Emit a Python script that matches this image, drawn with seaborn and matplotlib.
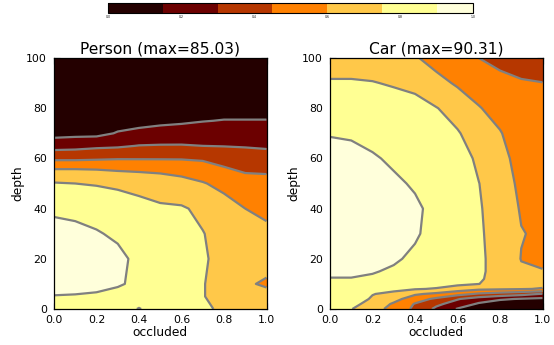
import numpy as np
import matplotlib
matplotlib.use("Agg")
import matplotlib.pyplot as plt
import seaborn as sns

sns.set_style("ticks", {"xtick.direction": "in", "ytick.direction": "in",
                        "axes.edgecolor": "black", "text.color": "black",
                        "axes.labelcolor": "black", "xtick.color": "black",
                        "ytick.color": "black"})
plt.rcParams['font.family'] = ['DejaVu Sans']

# ---------------- data (normalised accuracy = value / max) ----------------
occluded = [0.0, 0.1, 0.2, 0.3, 0.4, 0.5, 0.6, 0.7, 0.8, 0.9, 1.0]

person_title = "Person (max=85.03)"
person_depth = [0, 5, 10, 20, 30, 40, 50, 55, 60, 65, 70, 75, 80, 90, 100]
person_z = [
    [0.86, 0.86, 0.85, 0.84, 0.74, 0.84, 0.82, 0.78, 0.72, 0.70, 0.68],
    [0.895, 0.89, 0.88, 0.87, 0.85, 0.85, 0.82, 0.755, 0.71, 0.68, 0.65],
    [0.95, 0.95, 0.94, 0.91, 0.88, 0.86, 0.83, 0.755, 0.71, 0.62, 0.58],
    [0.97, 0.97, 0.96, 0.93, 0.87, 0.86, 0.83, 0.765, 0.71, 0.68, 0.66],
    [0.94, 0.93, 0.91, 0.88, 0.85, 0.83, 0.80, 0.755, 0.70, 0.66, 0.64],
    [0.88, 0.87, 0.85, 0.81, 0.79, 0.77, 0.765, 0.72, 0.66, 0.60, 0.56],
    [0.76, 0.75, 0.74, 0.73, 0.71, 0.68, 0.65, 0.61, 0.56, 0.50, 0.48],
    [0.63, 0.63, 0.62, 0.60, 0.59, 0.58, 0.56, 0.53, 0.47, 0.44, 0.44],
    [0.42, 0.42, 0.43, 0.44, 0.44, 0.44, 0.44, 0.43, 0.41, 0.37, 0.36],
    [0.24, 0.25, 0.27, 0.28, 0.305, 0.31, 0.31, 0.30, 0.295, 0.29, 0.28],
    [0.10, 0.11, 0.11, 0.16, 0.18, 0.20, 0.21, 0.22, 0.22, 0.22, 0.21],
    [0.06, 0.06, 0.07, 0.09, 0.11, 0.12, 0.13, 0.145, 0.155, 0.155, 0.155],
    [0.04, 0.04, 0.05, 0.06, 0.06, 0.07, 0.08, 0.09, 0.10, 0.10, 0.10],
    [0.02, 0.02, 0.03, 0.03, 0.03, 0.03, 0.04, 0.04, 0.05, 0.05, 0.05],
    [0.01, 0.01, 0.01, 0.01, 0.01, 0.01, 0.02, 0.02, 0.02, 0.02, 0.02],
]

car_title = "Car (max=90.31)"
car_depth = [0, 2, 4, 6, 8, 10, 12, 15, 20, 30, 40, 50, 60, 70, 80, 90, 100]
# one list per occluded value (columns), listed bottom (depth 0) to top
car_cols = [
    [0.80, 0.82, 0.84, 0.86, 0.87, 0.88, 0.898, 0.91, 0.93, 0.95, 0.96, 0.95, 0.93, 0.895, 0.84, 0.76, 0.70],
    [0.755, 0.79, 0.82, 0.85, 0.86, 0.88, 0.898, 0.91, 0.93, 0.95, 0.96, 0.95, 0.925, 0.89, 0.84, 0.76, 0.70],
    [0.66, 0.70, 0.735, 0.755, 0.80, 0.85, 0.89, 0.905, 0.92, 0.94, 0.95, 0.935, 0.91, 0.87, 0.82, 0.755, 0.69],
    [0.55, 0.58, 0.65, 0.72, 0.78, 0.83, 0.86, 0.89, 0.91, 0.93, 0.93, 0.915, 0.885, 0.85, 0.80, 0.74, 0.68],
    [0.42, 0.44, 0.52, 0.62, 0.76, 0.82, 0.85, 0.87, 0.885, 0.91, 0.915, 0.89, 0.86, 0.83, 0.79, 0.72, 0.615],
    [0.27, 0.33, 0.42, 0.57, 0.74, 0.80, 0.83, 0.85, 0.86, 0.87, 0.875, 0.86, 0.84, 0.80, 0.755, 0.65, 0.54],
    [0.14, 0.24, 0.31, 0.50, 0.68, 0.78, 0.81, 0.82, 0.83, 0.835, 0.835, 0.83, 0.80, 0.76, 0.70, 0.58, 0.49],
    [0.06, 0.13, 0.23, 0.43, 0.63, 0.752, 0.76, 0.762, 0.762, 0.76, 0.758, 0.752, 0.73, 0.69, 0.61, 0.52, 0.45],
    [0.03, 0.07, 0.17, 0.39, 0.62, 0.70, 0.72, 0.725, 0.725, 0.72, 0.71, 0.69, 0.66, 0.61, 0.54, 0.48, 0.42],
    [0.02, 0.05, 0.14, 0.35, 0.61, 0.66, 0.64, 0.62, 0.595, 0.607, 0.585, 0.56, 0.53, 0.51, 0.49, 0.46, 0.40],
    [0.01, 0.04, 0.12, 0.29, 0.59, 0.64, 0.63, 0.605, 0.58, 0.575, 0.56, 0.54, 0.52, 0.50, 0.48, 0.452, 0.39],
]

levels = [0.0, 0.15, 0.30, 0.45, 0.60, 0.75, 0.90, 1.05]
cbar_ticks = [0.0, 0.2, 0.4, 0.6, 0.8, 1.0]
x_ticks = [0.0, 0.2, 0.4, 0.6, 0.8, 1.0]
y_ticks = [0, 20, 40, 60, 80, 100]

# ---------------- figure ----------------
cmap = sns.color_palette("afmhot", as_cmap=True)
fig = plt.figure(figsize=(5.54, 3.45), dpi=100)
W, H = 554, 345
ax1 = fig.add_axes([54 / W, 1 - 309 / H, 212.5 / W, 251 / H])
ax2 = fig.add_axes([330 / W, 1 - 309 / H, 212.5 / W, 251 / H])
cax = fig.add_axes([108 / W, 1 - 13.3 / H, 365 / W, 10 / H])

panels = [
    (ax1, person_title, person_depth, np.array(person_z)),
    (ax2, car_title, car_depth, np.array(car_cols).T),
]
cs = None
for ax, title, depth, Z in panels:
    X, Y = np.meshgrid(occluded, depth)
    cs = ax.contourf(X, Y, Z, levels=levels, cmap=cmap)
    ax.contour(X, Y, Z, levels=levels[1:-1], colors="gray", linewidths=1.6)
    ax.set_xlim(0, 1)
    ax.set_ylim(0, 100)
    ax.set_xticks(x_ticks)
    ax.set_xticklabels([f"{t:.1f}" for t in x_ticks])
    ax.set_yticks(y_ticks)
    ax.set_yticklabels([str(t) for t in y_ticks])
    ax.tick_params(axis="both", which="major", direction="in", length=4,
                   width=0.8, top=True, right=True, labelsize=7.8,
                   color="black", labelcolor="black")
    ax.tick_params(axis="x", pad=4)
    ax.tick_params(axis="y", pad=5)
    for s in ax.spines.values():
        s.set_visible(True)
        s.set_color("black")
        s.set_linewidth(0.9)
    ax.set_xlabel("occluded", fontsize=8.8, labelpad=1, color="black")
    ax.set_ylabel("depth", fontsize=8.8, labelpad=1, color="black")
    ax.set_title(title, fontsize=11.2, pad=3, color="black")

cb = fig.colorbar(cs, cax=cax, orientation="horizontal")
cax.set_xlim(0, 1.0)
cb.set_ticks(cbar_ticks)
cb.set_ticklabels([f"{t:.1f}" for t in cbar_ticks])
cax.tick_params(labelsize=2.2, length=2, width=0.5, pad=1, direction="in",
                top=True, bottom=True, colors="black")
cb.outline.set_edgecolor("black")
cb.outline.set_linewidth(0.8)

fig.savefig("out.png", dpi=100)
